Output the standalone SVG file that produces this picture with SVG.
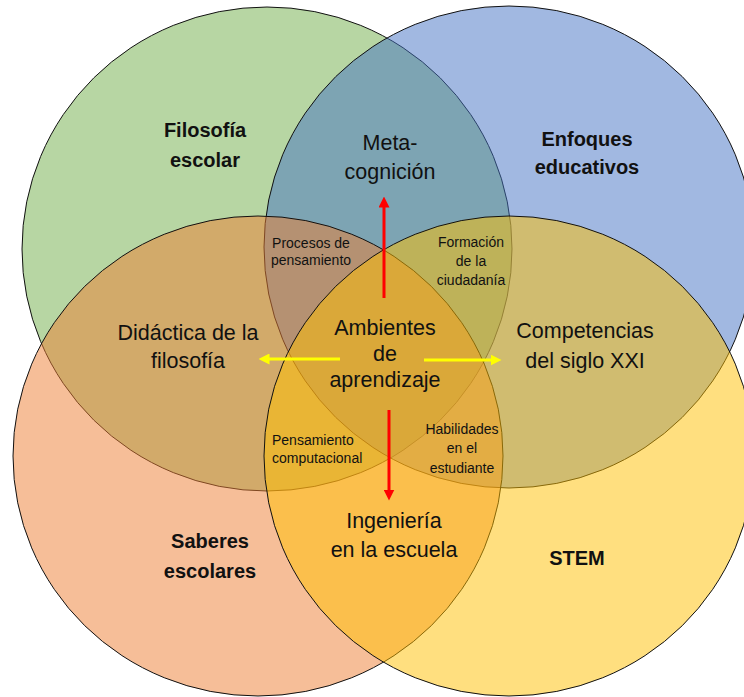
<svg xmlns="http://www.w3.org/2000/svg" width="744" height="697" viewBox="0 0 744 697">
  <style>
    .set { fill-opacity: 0.5; stroke: #111; stroke-width: 1; }
    text { font-family: "Liberation Sans", Arial, sans-serif; fill: #111; text-anchor: middle; }
    .bold { font-weight: bold; font-size: 20px; }
    .big { font-size: 21.5px; }
    .small { font-size: 14px; }
    .red { stroke: #ff0000; stroke-width: 3; fill: none; }
    .yel { stroke: #ffff00; stroke-width: 3; fill: none; }
  </style>
  <defs>
    <marker id="headRed" markerUnits="userSpaceOnUse" markerWidth="11" markerHeight="11" viewBox="0 0 11 11" refX="0.5" refY="5.5" orient="auto">
      <path d="M0,0 L11,5.5 L0,11 z" fill="#ff0000"/>
    </marker>
    <marker id="headYel" markerUnits="userSpaceOnUse" markerWidth="11" markerHeight="11" viewBox="0 0 11 11" refX="0.5" refY="5.5" orient="auto">
      <path d="M0,0 L11,5.5 L0,11 z" fill="#ffff00"/>
    </marker>
  </defs>
  <rect width="744" height="697" fill="#ffffff"/>

  <g id="filosofia-escolar">
    <ellipse class="set" cx="267" cy="249" rx="245" ry="242" fill="#70AD47"/>
    <text class="bold" x="205" y="137">Filosofía</text>
    <text class="bold" x="205" y="167">escolar</text>
  </g>
  <g id="enfoques-educativos">
    <ellipse class="set" cx="509" cy="247" rx="245" ry="241" fill="#4472C4"/>
    <text class="bold" x="587" y="146">Enfoques</text>
    <text class="bold" x="587" y="174">educativos</text>
  </g>
  <g id="saberes-escolares">
    <ellipse class="set" cx="258" cy="456" rx="245" ry="240" fill="#ED7D31"/>
    <text class="bold" x="210" y="548">Saberes</text>
    <text class="bold" x="210" y="578">escolares</text>
  </g>
  <g id="stem">
    <ellipse class="set" cx="509" cy="456" rx="245" ry="240" fill="#FFC000"/>
    <text class="bold" x="577" y="565">STEM</text>
  </g>

  <g id="metacognicion">
    <text class="big" x="390" y="150">Meta-</text>
    <text class="big" x="390" y="179">cognición</text>
  </g>
  <g id="didactica-filosofia">
    <text class="big" x="188" y="340">Didáctica de la</text>
    <text class="big" x="188" y="368">filosofía</text>
  </g>
  <g id="competencias">
    <text class="big" x="585" y="338">Competencias</text>
    <text class="big" x="585" y="368">del siglo XXI</text>
  </g>
  <g id="ingenieria">
    <text class="big" x="394" y="528">Ingeniería</text>
    <text class="big" x="394" y="557">en la escuela</text>
  </g>
  <g id="ambientes">
    <text class="big" x="385" y="335">Ambientes</text>
    <text class="big" x="385" y="361">de</text>
    <text class="big" x="385" y="387">aprendizaje</text>
  </g>
  <g id="procesos">
    <text class="small" x="311" y="248">Procesos de</text>
    <text class="small" x="311" y="265">pensamiento</text>
  </g>
  <g id="formacion">
    <text class="small" x="471" y="247">Formación</text>
    <text class="small" x="471" y="266">de la</text>
    <text class="small" x="471" y="285">ciudadanía</text>
  </g>
  <g id="pensamiento-computacional">
    <text class="small" x="272" y="445" style="text-anchor:start">Pensamiento</text>
    <text class="small" x="272" y="463" style="text-anchor:start">computacional</text>
  </g>
  <g id="habilidades">
    <text class="small" x="462" y="434">Habilidades</text>
    <text class="small" x="462" y="453">en el</text>
    <text class="small" x="462" y="473">estudiante</text>
  </g>

  <g id="connectors">
    <line class="red" x1="384" y1="298" x2="384" y2="207" marker-end="url(#headRed)"/>
    <line class="red" x1="389" y1="410" x2="389" y2="490" marker-end="url(#headRed)"/>
    <line class="yel" x1="340" y1="359" x2="269" y2="359" marker-end="url(#headYel)"/>
    <line class="yel" x1="424" y1="360" x2="491" y2="360" marker-end="url(#headYel)"/>
  </g>
</svg>
